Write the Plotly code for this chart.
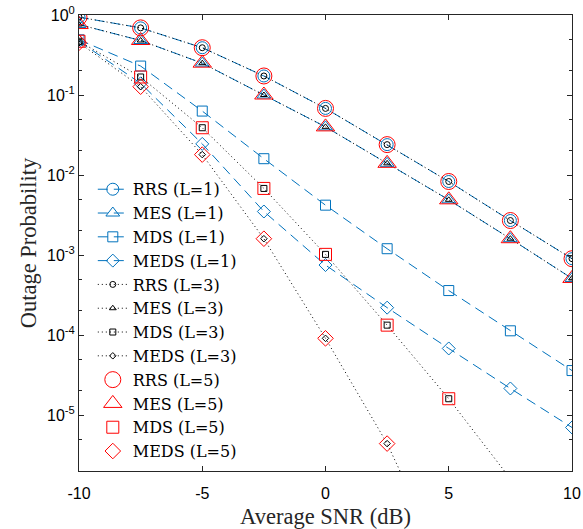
import plotly.graph_objects as go
import numpy as np

snr = [-10, -7.5, -5, -2.5, 0, 2.5, 5, 7.5, 10]

# L = 1
rrs_l1 = [0.94, 0.69, 0.39, 0.173, 0.068, 0.024, 0.0083, 0.0027, 0.0009]
mes_l1 = [0.76, 0.48, 0.25, 0.10, 0.040, 0.014, 0.0049, 0.0016, 0.00051]
mds_l1 = [0.49, 0.23, 0.063, 0.016, 0.0042, 0.0012, 0.00036, 0.000113, 3.6e-5]
meds_l1 = [0.47, 0.14, 0.0245, 0.0035, 7.5e-4, 2.2e-4, 6.8e-5, 2.15e-5, 7.0e-6]

# L = 3
rrs_l3 = [0.94, 0.69, 0.39, 0.173, 0.068, 0.024, 0.0083, 0.0027, 0.0009]
mes_l3 = [0.76, 0.48, 0.25, 0.10, 0.040, 0.014, 0.0049, 0.0016, 0.00051]
mds_l3 = [0.47, 0.168, 0.039, 0.0068, 0.00102, 1.33e-4, 1.6e-5, 1.6e-6, 1.2e-7]
meds_l3 = [0.45, 0.127, 0.018, 0.0016, 9.1e-5, 4.4e-6, 1.0e-7, 1.0e-9, 1.0e-11]

# L = 5
rrs_l5 = [0.94, 0.69, 0.39, 0.173, 0.068, 0.024, 0.0083, 0.0027, 0.0009]
mes_l5 = [0.76, 0.48, 0.25, 0.10, 0.040, 0.014, 0.0049, 0.0016, 0.00051]
mds_l5 = [0.47, 0.168, 0.039, 0.0068, 0.00102, 1.33e-4, 1.6e-5, 1.6e-6, 1.2e-7]
meds_l5 = [0.45, 0.127, 0.018, 0.0016, 9.1e-5, 4.4e-6, 1.0e-7, 1.0e-9, 1.0e-11]

x_ticks = [-10, -5, 0, 5, 10]
x_ticktext = ["-10", "-5", "0", "5", "10"]
y_tickvals = [1e-5, 1e-4, 1e-3, 1e-2, 1e-1, 1]
y_ticktext = ["10<sup>-5</sup>", "10<sup>-4</sup>", "10<sup>-3</sup>",
              "10<sup>-2</sup>", "10<sup>-1</sup>", "10<sup>0</sup>"]

BLUE = "#0072BD"
RED = "#FF0000"
BLACK = "#000000"

fig = go.Figure()

l1 = [("RRS (L=1)", rrs_l1, "circle-open", 12),
      ("MES (L=1)", mes_l1, "triangle-up-open", 12),
      ("MDS (L=1)", mds_l1, "square-open", 10),
      ("MEDS (L=1)", meds_l1, "diamond-open", 10)]
for name, y, sym, sz in l1:
    fig.add_trace(go.Scatter(
        x=snr, y=y, name=name, mode="lines+markers",
        line=dict(color=BLUE, width=1, dash="10px,6px"),
        marker=dict(symbol=sym, size=sz, color=BLUE, line=dict(width=1, color=BLUE)),
    ))

l3 = [("RRS (L=3)", rrs_l3, "circle-open", 6),
      ("MES (L=3)", mes_l3, "triangle-up-open", 6),
      ("MDS (L=3)", mds_l3, "square-open", 6),
      ("MEDS (L=3)", meds_l3, "diamond-open", 5)]
for name, y, sym, sz in l3:
    fig.add_trace(go.Scatter(
        x=snr, y=y, name=name, mode="lines+markers",
        line=dict(color=BLACK, width=1, dash="1px,3px"),
        marker=dict(symbol=sym, size=sz, color=BLACK, line=dict(width=1, color=BLACK)),
    ))

l5 = [("RRS (L=5)", rrs_l5, "circle-open", 16),
      ("MES (L=5)", mes_l5, "triangle-up-open", 16),
      ("MDS (L=5)", mds_l5, "square-open", 12),
      ("MEDS (L=5)", meds_l5, "diamond-open", 12)]
for name, y, sym, sz in l5:
    fig.add_trace(go.Scatter(
        x=snr, y=y, name=name, mode="markers",
        marker=dict(symbol=sym, size=sz, color=RED, line=dict(width=1, color=RED)),
    ))

axis_color = "#262626"
fig.update_layout(
    width=583, height=529,
    margin=dict(l=79, r=11, t=15, b=58, autoexpand=False),
    paper_bgcolor="white", plot_bgcolor="white",
    showlegend=True,
    legend=dict(
        x=0.028, y=0.655, xanchor="left", yanchor="top",
        bgcolor="rgba(0,0,0,0)", borderwidth=0,
        font=dict(family="DejaVu Serif", size=16, color="#000000"),
        tracegroupgap=0, itemsizing="trace",
    ),
    xaxis=dict(
        range=[-10, 10], tickvals=x_ticks, ticktext=x_ticktext,
        ticks="inside", ticklen=5, tickcolor=axis_color,
        ticklabelstandoff=8, automargin=False,
        showline=True, linecolor=axis_color, linewidth=1, mirror="ticks",
        showgrid=False, zeroline=False,
        tickfont=dict(family="Liberation Sans", size=16, color="#000000"),
        title=dict(text="Average SNR (dB)", standoff=8,
                   font=dict(family="Liberation Serif", size=22.5, color="#262626")),
    ),
    yaxis=dict(
        type="log", range=[np.log10(2e-6), 0],
        tickvals=y_tickvals, ticktext=y_ticktext,
        ticks="inside", ticklen=5, tickcolor=axis_color, automargin=False,
        minor=dict(ticks="inside", ticklen=3, tickcolor=axis_color, showgrid=False),
        showline=True, linecolor=axis_color, linewidth=1, mirror="ticks",
        showgrid=False, zeroline=False,
        tickfont=dict(family="Liberation Sans", size=16, color="#000000"),
        title=dict(text="Outage Probability", standoff=4,
                   font=dict(family="Liberation Serif", size=22.5, color="#262626")),
    ),
)

fig.write_html("out.html")
